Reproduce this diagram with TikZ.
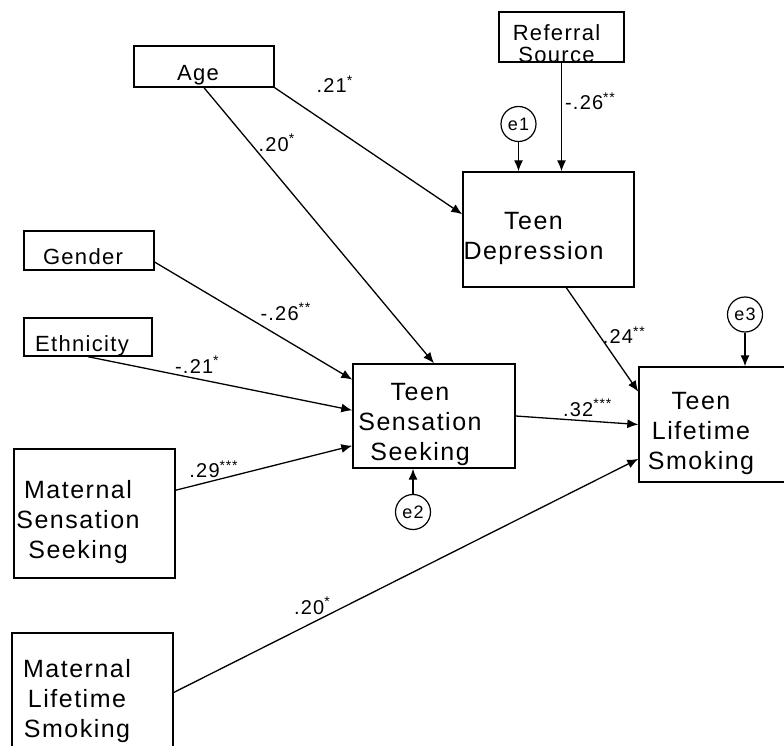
\documentclass[tikz,border=0pt]{standalone}
\usepackage{fontspec}
\setmainfont{Liberation Sans}[LetterSpace=6]
\usepackage{tikz}
\usetikzlibrary{positioning}
\usetikzlibrary{arrows.meta}

\newcommand{\bigfont}{\fontsize{25}{30}\selectfont}
\newcommand{\smallfont}{\fontsize{22}{22}\selectfont}
\newcommand{\labfont}{\fontsize{20}{20}\selectfont}
\newcommand{\stars}[1]{\textsuperscript{#1}}
% text block, shifted left by half of #1 and a bit down
\newcommand{\boxtext}[2][28pt]{\raisebox{-15pt}[0pt][0pt]{\begin{tabular}{@{}c@{\hspace{#1}}}#2\end{tabular}}}

\tikzset{
	smallbox/.style={rectangle, font=\smallfont},
	bigbox/.style={rectangle, font=\bigfont},
	errc/.style={circle, line width=1.2pt, minimum size=35pt, font=\fontsize{18}{18}\selectfont}
}

\begin{document}
\begin{tikzpicture}[x=1pt, y=-1pt]
	\useasboundingbox (0,0) rectangle (784,746);
	\begin{scope}[every node/.style={draw, line width=1.4pt, inner sep=0pt}]
	    \node (age) [smallbox, minimum width=140pt, minimum height=41pt] at (204,66.5) {\boxtext[12pt]{Age}};
	    \node (ref) [smallbox, minimum width=125pt, minimum height=50pt] at (561.5,37) {\boxtext[10pt]{Referral\\Source}};
	    \node (gender) [smallbox, minimum width=130pt, minimum height=39pt] at (89,250.5) {\boxtext[12pt]{Gender}};
	    \node (eth) [smallbox, minimum width=128pt, minimum height=38pt] at (88,337) {\boxtext[12pt]{Ethnicity}};
	    \node (dep) [bigbox, minimum width=171pt, minimum height=115pt] at (548.5,229.5) {\boxtext[30pt]{Teen\\Depression}};
	    \node (tss) [bigbox, minimum width=162pt, minimum height=104pt] at (434,416) {\boxtext[28pt]{Teen\\Sensation\\Seeking}};
	    \node (tls) [bigbox, minimum width=146pt, minimum height=115pt] at (712,424.5) {\boxtext[22pt]{Teen\\Lifetime\\Smoking}};
	    \node (mss) [bigbox, minimum width=161pt, minimum height=129pt] at (94.5,513.5) {\boxtext[33pt]{Maternal\\Sensation\\Seeking}};
	    \node (mls) [bigbox, minimum width=161pt, minimum height=119pt] at (92.5,692.5) {\boxtext[31pt]{Maternal\\Lifetime\\Smoking}};
	    \node (e1) [errc] at (518.5,124) {e1};
	    \node (e2) [errc] at (413,512) {e2};
	    \node (e3) [errc] at (745,314.5) {e3};
	\end{scope}

	\begin{scope}[>={Latex[length=11pt,width=9pt]},
	              every edge/.style={draw=black, line width=1.3pt},
	              every node/.style={inner sep=1pt, font=\labfont}]
    	\path [->] (age.south east) edge node[pos=0.32, above=34pt] (c1) {.21\stars{*}} (dep.170);
    	\path [->] (age.south) edge node[pos=0.2, right=7pt] (c2) {.20\stars{*}} (tss.north);
    	\path [->] (ref.south) edge node[pos=0.355, right=2pt] (c3) {-.26\stars{**}} (ref.south |- dep.north);
    	\path [->] (e1) edge (e1 |- dep.north);
    	\path [->] (gender.-10) edge node[pos=0.663, above=18pt] (c4) {-.26\stars{**}} (tss.156);
    	\path [->] (eth.south) edge node[pos=0.413, above=4pt] (c5) {-.21\stars{*}} (tss.176);
    	\path [->] (mss.16) edge node[pos=0.216, above=1pt] (c6) {.29\stars{***}} (tss.200);
    	\path [->] (e2) edge (e2 |- tss.south);
    	\path [->] (dep.-73) edge node[pos=0.457, right=2pt] (c7) {.24\stars{**}} (tls.156);
    	\path [->] (tss.east) edge node[pos=0.585, above=3pt] (c8) {.32\stars{***}} (tls.west);
    	\path [->] (mls.east) edge node[pos=0.298, above=7pt] (c9) {.20\stars{*}} (tls.205);
    	\path [->] (e3) edge (e3 |- tls.north);
	\end{scope}
\end{tikzpicture}
\end{document}
